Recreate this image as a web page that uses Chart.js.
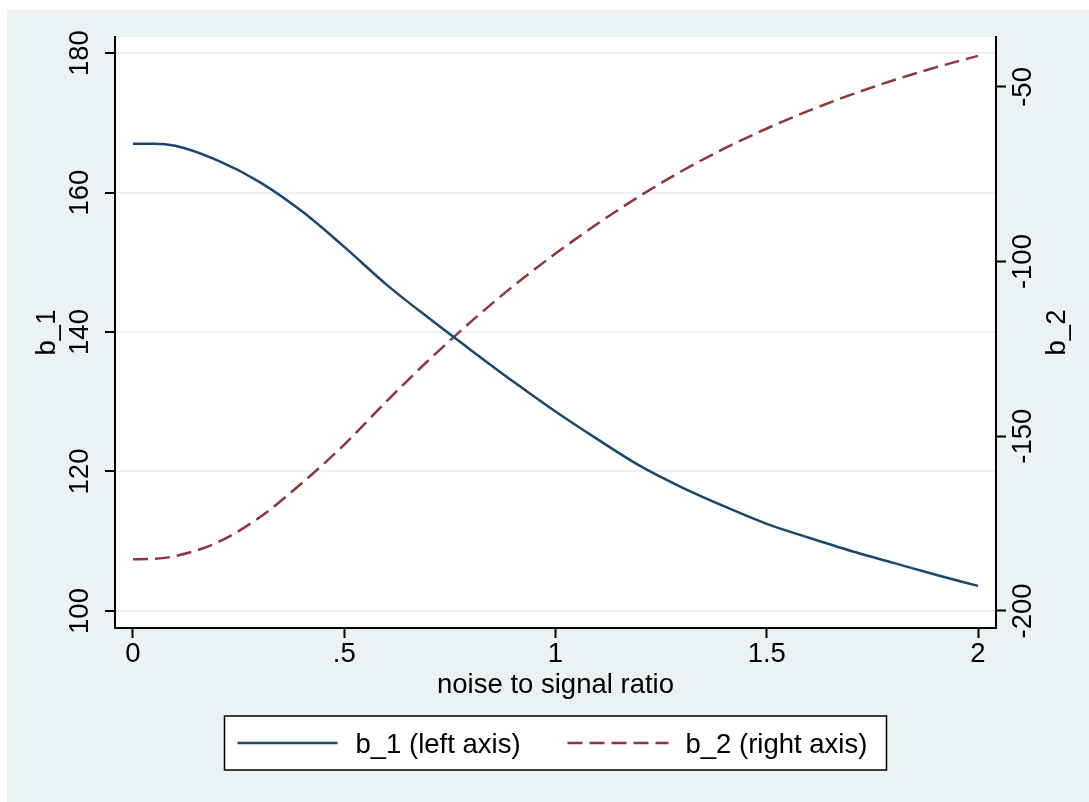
<!DOCTYPE html>
<html>
<head>
<meta charset="utf-8">
<title>b_1 / b_2 nach noise to signal ratio</title>
<script src="https://cdn.jsdelivr.net/npm/chart.js@4.4.1/dist/chart.umd.min.js"></script>
<style>
  html, body { margin: 0; padding: 0; background: #fff; }
  #wrap { position: absolute; left: 7px; top: 10px; width: 1082px; height: 792px; background: #eaf2f3; }
  canvas { display: block; }
</style>
</head>
<body>
<div id="wrap"><canvas id="chart" width="1082" height="792"></canvas></div>
<script>
// Werte
const noiseRatio = [0, 0.05, 0.1, 0.2, 0.3, 0.4, 0.5, 0.6, 0.7, 0.8, 0.9, 1.0, 1.1, 1.2, 1.3, 1.4, 1.5, 1.6, 1.7, 1.8, 1.9, 2.0];
const b1 = [167.0, 167.0, 166.7, 164.6, 161.5, 157.3, 152.2, 146.8, 142.0, 137.4, 132.9, 128.6, 124.6, 120.8, 117.7, 115.0, 112.5, 110.5, 108.6, 106.9, 105.2, 103.6];
const b2 = [-185.2, -185.1, -184.3, -180.4, -173.2, -163.4, -152.4, -140.0, -128.2, -117.2, -107.0, -97.7, -89.1, -81.2, -74.0, -67.6, -61.9, -56.8, -52.2, -48.1, -44.4, -41.1];

const xTicks = [0, 0.5, 1, 1.5, 2];
const b1Ticks = [100, 120, 140, 160, 180];
const b2Ticks = [-200, -150, -100, -50];
const seriesLabels = ['b_1 (left axis)', 'b_2 (right axis)'];

const FONT_FAMILY = "'Liberation Sans', Arial, Helvetica, sans-serif";
const FONT_SIZE = 27.5;
const BLUE = '#1a476f';
const RED = '#90353b';

Chart.defaults.font.family = FONT_FAMILY;
Chart.defaults.color = '#000';

// weisser Plotbereich
const plotBackground = {
  id: 'plotBackground',
  beforeDraw(chart) {
    const { ctx, chartArea: a } = chart;
    ctx.save();
    ctx.fillStyle = '#fff';
    ctx.fillRect(a.left, a.top, a.right - a.left, a.bottom - a.top);
    ctx.restore();
  }
};

// rechter Achsentitel (gleiche Drehung wie links) + Legende im Kasten
const extras = {
  id: 'extras',
  afterDraw(chart) {
    const { ctx, chartArea: a } = chart;
    const cx = (a.left + a.right) / 2;

    ctx.save();
    ctx.font = FONT_SIZE + 'px ' + FONT_FAMILY;
    ctx.fillStyle = '#000';
    ctx.textAlign = 'center';
    ctx.textBaseline = 'middle';
    ctx.translate(1050, (a.top + a.bottom) / 2);
    ctx.rotate(-Math.PI / 2);
    ctx.fillText('b_2', 0, 0);
    ctx.restore();

    // Legende
    const top = 706, bottom = 760, mid = (top + bottom) / 2;
    ctx.save();
    ctx.fillStyle = '#fff';
    ctx.fillRect(cx - 331, top, 662, bottom - top);
    ctx.strokeStyle = '#000';
    ctx.lineWidth = 1.5;
    ctx.strokeRect(cx - 331, top, 662, bottom - top);

    ctx.lineWidth = 2.5;
    ctx.strokeStyle = BLUE;
    ctx.beginPath();
    ctx.moveTo(cx - 318, mid);
    ctx.lineTo(cx - 218, mid);
    ctx.stroke();

    ctx.strokeStyle = RED;
    ctx.setLineDash([15, 7]);
    ctx.beginPath();
    ctx.moveTo(cx + 12, mid);
    ctx.lineTo(cx + 113, mid);
    ctx.stroke();
    ctx.setLineDash([]);

    ctx.font = FONT_SIZE + 'px ' + FONT_FAMILY;
    ctx.fillStyle = '#000';
    ctx.textAlign = 'left';
    ctx.textBaseline = 'middle';
    ctx.fillText(seriesLabels[0], cx - 200, mid + 2);
    ctx.fillText(seriesLabels[1], cx + 130, mid + 2);
    ctx.restore();
  }
};

const canvas = document.getElementById('chart');

new Chart(canvas, {
  type: 'line',
  data: {
    datasets: [
      {
        label: seriesLabels[0],
        data: noiseRatio.map((x, i) => ({ x: x, y: b1[i] })),
        yAxisID: 'y',
        borderColor: BLUE,
        borderWidth: 2.5,
        pointRadius: 0,
        cubicInterpolationMode: 'monotone'
      },
      {
        label: seriesLabels[1],
        data: noiseRatio.map((x, i) => ({ x: x, y: b2[i] })),
        yAxisID: 'y1',
        borderColor: RED,
        borderWidth: 2.5,
        borderDash: [15, 7],
        pointRadius: 0,
        cubicInterpolationMode: 'monotone'
      }
    ]
  },
  options: {
    responsive: false,
    animation: false,
    devicePixelRatio: 1,
    layout: { padding: { top: 27, left: 0, right: 0, bottom: 90 } },
    plugins: {
      legend: { display: false },
      tooltip: { enabled: false }
    },
    scales: {
      x: {
        type: 'linear',
        position: 'bottom',
        min: -0.0426,
        max: 2.0426,
        afterBuildTicks: s => { s.ticks = xTicks.map(v => ({ value: v })); },
        afterFit: s => { s.height = 84; },
        grid: { drawOnChartArea: false, drawTicks: true, tickLength: 10, tickColor: '#000', tickWidth: 2 },
        border: { display: true, color: '#000', width: 2 },
        ticks: {
          padding: 0,
          color: '#000',
          font: { size: FONT_SIZE },
          maxRotation: 0,
          autoSkip: false,
          callback: v => String(v).replace(/^0\./, '.')
        },
        title: { display: true, text: 'noise to signal ratio', color: '#000', font: { size: FONT_SIZE }, padding: { top: 0, bottom: 10 } }
      },
      y: {
        position: 'left',
        min: 97.56,
        max: 182.3,
        afterBuildTicks: s => { s.ticks = b1Ticks.map(v => ({ value: v })); },
        afterFit: s => { s.width = 108; },
        grid: { color: '#eaf2f3', lineWidth: 2, tickColor: '#000', tickLength: 10, tickWidth: 2 },
        border: { display: true, color: '#000', width: 2 },
        ticks: { minRotation: 90, maxRotation: 90, crossAlign: 'center', padding: 1.5, color: '#000', font: { size: FONT_SIZE } },
        title: { display: true, text: 'b_1', color: '#000', font: { size: FONT_SIZE }, padding: { top: 24, bottom: 0 } }
      },
      y1: {
        position: 'right',
        min: -204.9,
        max: -35.7,
        afterBuildTicks: s => { s.ticks = b2Ticks.map(v => ({ value: v })); },
        afterFit: s => { s.width = 93; },
        grid: { drawOnChartArea: false, tickColor: '#000', tickLength: 10, tickWidth: 2 },
        border: { display: true, color: '#000', width: 2 },
        ticks: { minRotation: 90, maxRotation: 90, crossAlign: 'center', padding: -10.5, color: '#000', font: { size: FONT_SIZE } }
      }
    }
  },
  plugins: [plotBackground, extras]
});
</script>
</body>
</html>
